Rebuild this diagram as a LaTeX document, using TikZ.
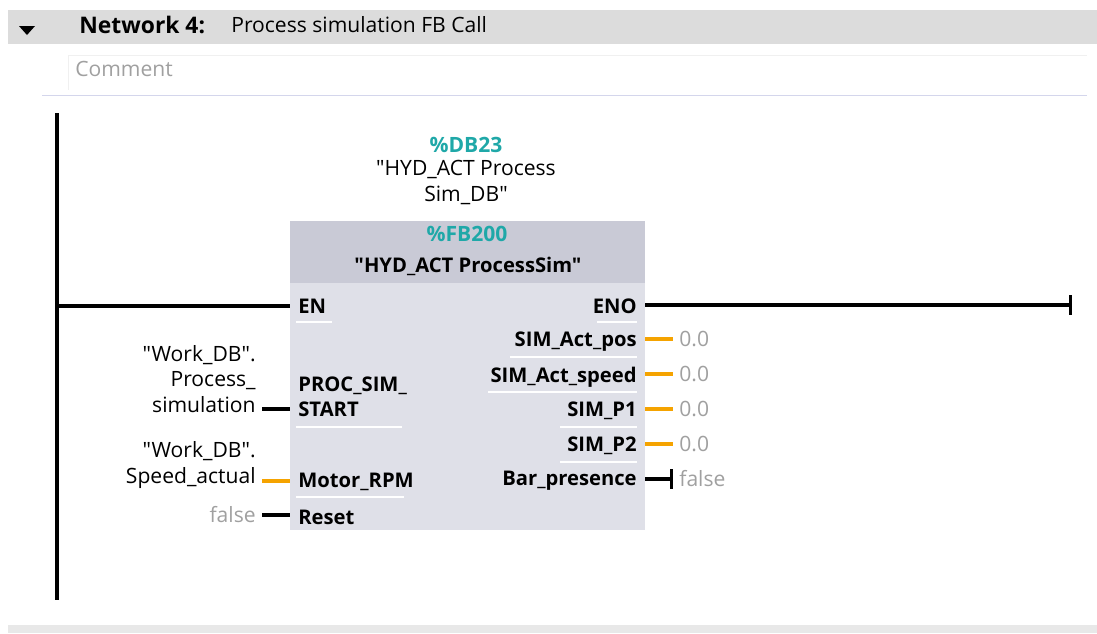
\documentclass[tikz,border=0pt]{standalone}
\usepackage{fontspec}
\setmainfont{Open Sans}[Ligatures=TeXOff]
\usetikzlibrary{positioning}

\definecolor{bargray}{HTML}{DCDCDC}
\definecolor{footgray}{HTML}{E8E8E8}
\definecolor{fbhead}{HTML}{C9CAD6}
\definecolor{fbbody}{HTML}{DFE0E8}
\definecolor{dbteal}{HTML}{1FA8A8}
\definecolor{wireorange}{HTML}{F5A300}
\definecolor{valgray}{HTML}{A0A0A0}
\definecolor{rulecol}{HTML}{D4D6EC}

\newcommand{\dq}{\symbol{34}}

\tikzset{
  pinfont/.style={font=\bfseries\fontsize{11.5}{14.5}\selectfont, inner sep=0pt},
  opfont/.style={font=\fontsize{12}{14.5}\selectfont, inner sep=0pt},
  inpin/.style={pinfont, anchor=west},
  outpin/.style={pinfont, anchor=east},
  operand/.style={opfont, anchor=east, align=right},
  outval/.style={opfont, anchor=west, text=valgray},
  wire/.style={line width=1.8pt},
  owire/.style={line width=1.8pt, wireorange},
  endbar/.style={line width=1.8pt, -|},
  sep/.style={white, line width=0.8pt}
}

\begin{document}
\begin{tikzpicture}[x=0.02cm, y=-0.02cm]
  \useasboundingbox (0,0) rectangle (1097,633);

  % Network title bar
  \fill[bargray] (8,10) rectangle (1097,44);
  \fill (19,26) -- (35,26) -- (27,35) -- cycle;
  \node[anchor=west, inner sep=0pt, font=\bfseries\fontsize{13}{15}\selectfont] (netno) at (79,25) {Network 4:};
  \node[anchor=west, inner sep=0pt, font=\fontsize{12}{14}\selectfont] (nettitle) at (231,25) {Process simulation FB Call};

  % Comment field
  \draw[gray!12] (68,90) -- (68,55) -- (1087,55);
  \node[anchor=west, inner sep=0pt, text=valgray, font=\fontsize{12}{14}\selectfont] (cmt) at (75,69) {Comment};
  \draw[rulecol] (42,95) -- (1087,95);

  % Power rail and footer
  \coordinate (railtop) at (57,113);
  \coordinate (railbot) at (57,600);
  \draw[line width=1.8pt] (railtop) -- (railbot);
  \fill[footgray] (8,625) rectangle (1097,633);

  % Instance DB
  \node[font=\bfseries\fontsize{12}{14}\selectfont, text=dbteal, inner sep=0pt] (dbno) at (466,145) {\%DB23};
  \node[opfont, align=center, below=4pt of dbno] (dbname) {\dq HYD\_ACT Process\\Sim\_DB\dq};

  % FB box
  \node[fill=fbbody, minimum width=7.1cm, minimum height=6.18cm, inner sep=0pt] (fb) at (467.5,375.5) {};
  \fill[fbhead] (fb.north west) rectangle (645,283);
  \node[font=\bfseries\fontsize{12}{14}\selectfont, text=dbteal, inner sep=0pt] (fbno) at (467,234) {\%FB200};
  \node[pinfont] (fbname) at (468,266) {\dq HYD\_ACT ProcessSim\dq};

  % Input pins
  \node[inpin] (en) at (298,306) {EN};
  \node[inpin, align=left] (start) at (298,397) {PROC\_SIM\_\\START};
  \node[inpin] (rpm) at (298,482) {Motor\_RPM};
  \node[inpin] (reset) at (298,517) {Reset};

  % Output pins
  \node[outpin] (eno) at (637,306) {ENO};
  \node[outpin] (apos) at (637,342) {SIM\_Act\_pos};
  \node[outpin] (aspd) at (637,377) {SIM\_Act\_speed};
  \node[outpin] (p1) at (637,411) {SIM\_P1};
  \node[outpin] (p2) at (637,446) {SIM\_P2};
  \node[outpin] (bar) at (637,481) {Bar\_presence};

  % Pin separators
  \draw[sep] (296,322) -- (332,322);
  \draw[sep] (296,427) -- (402,427);
  \draw[sep] (296,497) -- (404,497);
  \draw[sep] (597,322) -- (637,322);
  \draw[sep] (510,357) -- (637,357);
  \draw[sep] (488,392) -- (637,392);
  \draw[sep] (560,427) -- (637,427);
  \draw[sep] (560,462) -- (637,462);

  % Input operands
  \node[operand] (opstart) at (256,379) {\dq Work\_DB\dq.\\Process\_\\simulation};
  \node[operand] (oprpm) at (256,465) {\dq Work\_DB\dq.\\Speed\_actual};
  \node[operand, text=valgray] (opreset) at (256,515) {false};

  % Output values
  \node[outval] (vpos) at (679,339) {0.0};
  \node[outval] (vspd) at (679,374) {0.0};
  \node[outval] (vp1) at (679,409) {0.0};
  \node[outval] (vp2) at (679,444) {0.0};
  \node[outval] (vbar) at (679,479) {false};

  % Wire ends
  \coordinate (enoend) at (1072,305);
  \coordinate (wstart) at (262,409);
  \coordinate (wrpm) at (262,481);
  \coordinate (wreset) at (262,515);

  % Connections
  \draw[wire] (railtop |- en) -- (fb.west |- en);
  \draw[endbar] (fb.east |- enoend) -- (enoend);
  \draw[wire] (wstart) -- (fb.west |- wstart);
  \draw[owire] (wrpm) -- (fb.west |- wrpm);
  \draw[wire] (wreset) -- (fb.west |- wreset);
  \draw[owire] (fb.east |- vpos) -- ++(28,0);
  \draw[owire] (fb.east |- vspd) -- ++(28,0);
  \draw[owire] (fb.east |- vp1) -- ++(28,0);
  \draw[owire] (fb.east |- vp2) -- ++(28,0);
  \draw[endbar] (fb.east |- vbar) -- ++(28,0);
\end{tikzpicture}
\end{document}
